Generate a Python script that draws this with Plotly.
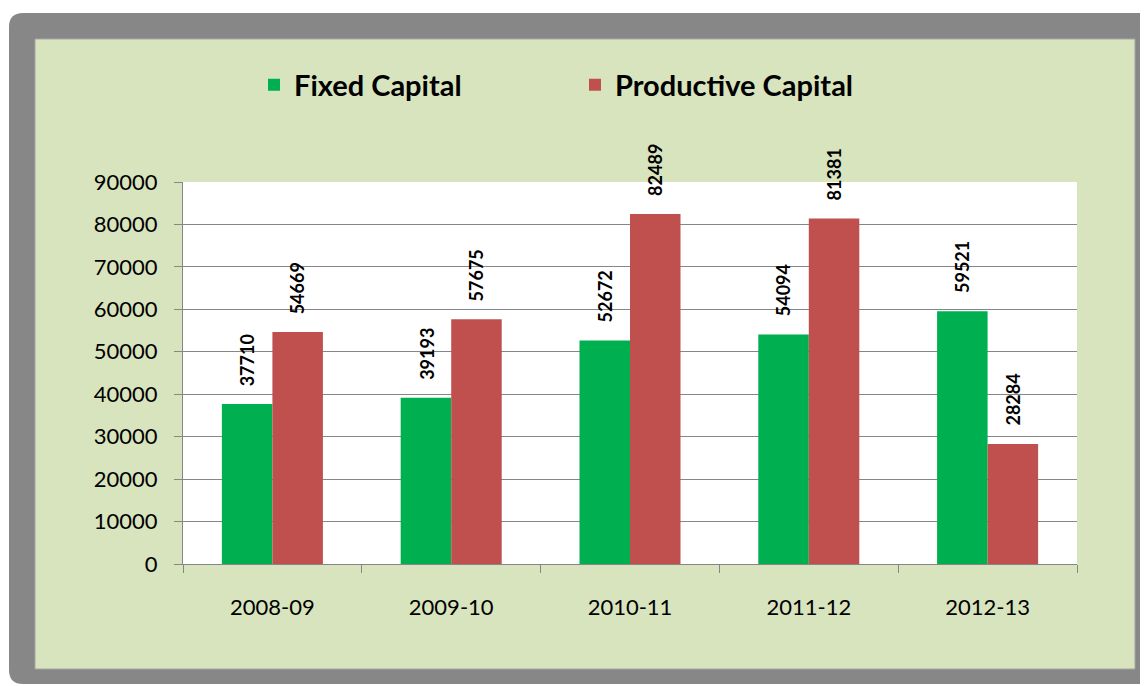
import plotly.graph_objects as go

# ---- data ----
years = ["2008-09", "2009-10", "2010-11", "2011-12", "2012-13"]
fixed_capital = [37710, 39193, 52672, 54094, 59521]
productive_capital = [54669, 57675, 82489, 81381, 28284]
series_names = ["Fixed Capital", "Productive Capital"]
y_tick_values = [0, 10000, 20000, 30000, 40000, 50000, 60000, 70000, 80000, 90000]
y_tick_labels = [str(v) for v in y_tick_values]

# ---- styles ----
colors = ["#00b050", "#c0504d"]
FONT = "Lato"
OFF = 8  # page body margin
W, H = 1148 - OFF, 686 - OFF
L, R, T, B = 183 - OFF, 71, 182 - OFF, 122
pw, ph = W - L - R, H - T - B


def xp(px):
    return (px - OFF - L) / pw


def yp(py):
    return (H - B - (py - OFF)) / ph


fig = go.Figure()
series = [fixed_capital, productive_capital]
shifts = [-25, 25]
for name, vals, col in zip(series_names, series, colors):
    fig.add_trace(go.Bar(x=years, y=vals, name=name, marker_color=col,
                         marker_line_width=0))

annotations = []
for vals, sh in zip(series, shifts):
    for yr, v in zip(years, vals):
        annotations.append(dict(
            x=yr, y=v, xref="x", yref="y", text=f"<b>{v}</b>", textangle=-90,
            xshift=sh, yshift=16, yanchor="bottom", xanchor="center",
            showarrow=False, font=dict(family=FONT, size=18, color="black")))

# frame shapes (paper coords, given in reference pixel positions)
r = 14
x0, x1, y0, y1 = 9, 1170, 13, 684
gray_path = (
    f"M {xp(x0)},{yp(y0 + r)} Q {xp(x0)},{yp(y0)} {xp(x0 + r)},{yp(y0)} "
    f"L {xp(x1)},{yp(y0)} L {xp(x1)},{yp(y1)} L {xp(x0 + r)},{yp(y1)} "
    f"Q {xp(x0)},{yp(y1)} {xp(x0)},{yp(y1 - r)} Z"
)
shapes = [
    dict(type="path", path=gray_path, xref="paper", yref="paper",
         fillcolor="#878787", line=dict(width=0), layer="below"),
    dict(type="rect", xref="paper", yref="paper", x0=xp(35), x1=xp(1135),
         y0=yp(39), y1=yp(669), fillcolor="#d8e4bd",
         line=dict(color="#a5a5a5", width=1), layer="below"),
    dict(type="rect", xref="paper", yref="paper", x0=0, x1=1, y0=0, y1=1,
         fillcolor="white", line=dict(width=0), layer="below"),
]

fig.update_layout(
    width=W, height=H,
    margin=dict(l=L, r=R, t=T, b=B, pad=0),
    paper_bgcolor="white",
    plot_bgcolor="rgba(0,0,0,0)",
    barmode="group", bargap=0.435, bargroupgap=0,
    font=dict(family=FONT, size=22, color="black"),
    showlegend=True,
    legend=dict(orientation="h", x=xp(254), y=yp(85), xanchor="left",
                yanchor="middle", bgcolor="rgba(0,0,0,0)",
                font=dict(family=FONT, size=29, color="black", weight="bold"),
                entrywidth=276, entrywidthmode="pixels", traceorder="normal"),
    annotations=annotations,
    shapes=shapes,
)
fig.update_xaxes(type="category", showgrid=False, showline=True,
                 linecolor="#868686", linewidth=1, ticks="outside",
                 tickson="boundaries", ticklen=8, tickcolor="#868686",
                 ticklabelstandoff=24, tickfont=dict(family=FONT, size=22))
fig.update_yaxes(range=[0, 90000], tickvals=y_tick_values, ticktext=y_tick_labels,
                 showgrid=True, gridcolor="#868686", gridwidth=1,
                 showline=True, linecolor="#868686", linewidth=1,
                 ticks="outside", ticklen=8, tickcolor="#868686",
                 ticklabelstandoff=12, zeroline=False,
                 tickfont=dict(family=FONT, size=22))

fig.write_html("out.html")
